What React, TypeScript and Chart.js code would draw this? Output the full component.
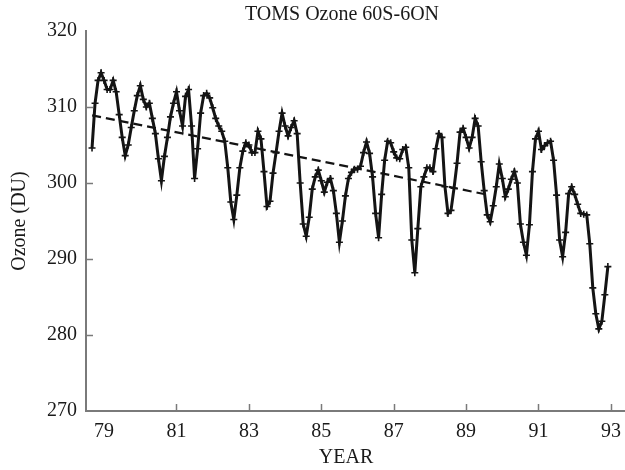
import React, { useEffect, useRef } from "react";
import { Chart, registerables } from "chart.js";

Chart.register(...registerables);

// ---- data (monthly TOMS ozone, 60S-60N, Dobson units) ----
const firstMonth = 78 + 8 / 12; // first monthly sample on the year axis
const oz1978 = [304.6, 310.5, 313.5, 314.5];
const oz1979 = [313.5, 312.3, 312.3, 313.5, 312.0, 309.0, 306.0, 303.6, 305.0, 307.3, 309.5, 311.5];
const oz1980 = [312.8, 311.0, 310.0, 310.5, 308.5, 306.5, 303.2, 300.3, 303.5, 306.0, 308.7, 310.5];
const oz1981 = [312.0, 309.5, 307.5, 311.4, 312.3, 307.5, 300.6, 304.5, 309.2, 311.5, 311.8, 311.2];
const oz1982 = [309.9, 308.5, 307.5, 306.8, 305.5, 302.0, 297.5, 295.2, 298.4, 302.0, 304.2, 305.3];
const oz1983 = [305.0, 304.0, 304.0, 306.8, 305.8, 301.5, 296.9, 297.6, 301.3, 304.0, 306.8, 309.2];
const oz1984 = [307.5, 306.2, 307.3, 308.2, 306.5, 300.0, 294.6, 293.0, 295.5, 299.2, 300.8, 301.7];
const oz1985 = [300.3, 298.8, 300.1, 300.6, 299.0, 296.0, 292.2, 295.0, 298.3, 300.6, 301.4, 301.8];
const oz1986 = [301.8, 302.2, 304.0, 305.4, 303.9, 300.8, 296.0, 292.8, 298.5, 303.0, 305.5, 305.3];
const oz1987 = [304.1, 303.3, 303.2, 304.4, 304.7, 302.0, 292.5, 288.2, 294.0, 299.5, 300.8, 302.0];
const oz1988 = [302.0, 301.5, 304.5, 306.5, 306.0, 299.5, 296.0, 296.4, 299.3, 302.6, 306.7, 307.2];
const oz1989 = [306.0, 304.6, 306.0, 308.5, 307.5, 302.8, 299.0, 295.8, 294.9, 297.0, 299.5, 302.5];
const oz1990 = [300.6, 298.2, 299.2, 300.5, 301.5, 300.0, 294.6, 292.2, 290.5, 294.5, 301.5, 305.8];
const oz1991 = [306.8, 304.4, 304.9, 305.3, 305.5, 303.0, 298.4, 292.5, 290.3, 293.5, 298.6, 299.5];
const oz1992 = [298.5, 297.2, 296.0, 295.9, 295.8, 292.0, 286.2, 282.8, 280.8, 281.8, 285.3, 289.0];

const trendYears = [78.67, 89.66];
const trendValues = [308.9, 298.4];

const xTickLabels = [79, 81, 83, 85, 87, 89, 91, 93];
const xTickMarks = [81, 83, 85, 87, 89, 91, 93];
const yTickLabels = [270, 280, 290, 300, 310, 320];
const yTickMarks = [280, 290, 300, 310];

const TITLE = "TOMS Ozone 60S-6ON";
const X_TITLE = "YEAR";
const Y_TITLE = "Ozone (DU)";

// ---- styles / layout ----
const W = 625;
const H = 470;
const FONT_FAMILY = '"Liberation Serif", "Times New Roman", serif';
const TEXT_COLOR = "#1a1a1a";
const AXIS_COLOR = "#7a7a7a";
const LINE_COLOR = "#141414";

const decorPlugin = {
  id: "decor",
  afterDraw(chart: any) {
    const { ctx, chartArea, scales } = chart;
    ctx.save();
    ctx.strokeStyle = AXIS_COLOR;
    ctx.lineWidth = 1.5;
    xTickMarks.forEach((v) => {
      const px = Math.round(scales.x.getPixelForValue(v)) + 0.5;
      ctx.beginPath();
      ctx.moveTo(px, chartArea.bottom);
      ctx.lineTo(px, chartArea.bottom - 7);
      ctx.stroke();
    });
    yTickMarks.forEach((v) => {
      const py = Math.round(scales.y.getPixelForValue(v)) + 0.5;
      ctx.beginPath();
      ctx.moveTo(chartArea.left, py);
      ctx.lineTo(chartArea.left + 7, py);
      ctx.stroke();
    });
    ctx.fillStyle = TEXT_COLOR;
    ctx.font = `20px ${FONT_FAMILY}`;
    ctx.textAlign = "center";
    ctx.textBaseline = "middle";
    ctx.fillText(TITLE, 342, 15);
    ctx.fillText(X_TITLE, 346, 458);
    ctx.restore();
  },
};

export default function App() {
  const ref = useRef<HTMLCanvasElement | null>(null);

  useEffect(() => {
    const canvas = ref.current;
    if (!canvas) return;
    const values = [
      ...oz1978, ...oz1979, ...oz1980, ...oz1981, ...oz1982, ...oz1983, ...oz1984, ...oz1985,
      ...oz1986, ...oz1987, ...oz1988, ...oz1989, ...oz1990, ...oz1991, ...oz1992,
    ];
    const series = values.map((v, i) => ({ x: firstMonth + i / 12, y: v }));
    const trend = trendYears.map((x, i) => ({ x, y: trendValues[i] }));

    const chart = new Chart(canvas, {
      type: "line",
      data: {
        datasets: [
          {
            label: "Ozone",
            data: series,
            borderColor: LINE_COLOR,
            backgroundColor: LINE_COLOR,
            borderWidth: 3,
            pointStyle: "cross",
            pointRadius: 3.5,
            pointBorderWidth: 1.6,
            pointBorderColor: LINE_COLOR,
            tension: 0,
            fill: false,
          },
          {
            label: "Trend",
            data: trend,
            borderColor: LINE_COLOR,
            borderWidth: 2.2,
            borderDash: [9, 5],
            pointRadius: 0,
            tension: 0,
            fill: false,
          },
        ],
      },
      options: {
        responsive: false,
        animation: false,
        devicePixelRatio: 1,
        layout: { autoPadding: false, padding: { top: 31, left: 0, right: 0, bottom: 0 } },
        plugins: {
          legend: { display: false },
          title: { display: false },
          tooltip: { enabled: false },
        },
        scales: {
          x: {
            type: "linear",
            min: 78.5,
            max: 93.39,
            grid: { display: false, drawTicks: false },
            border: { display: true, color: AXIS_COLOR, width: 2 },
            afterBuildTicks: (scale: any) => {
              scale.ticks = xTickLabels.map((v) => ({ value: v }));
            },
            afterFit: (scale: any) => {
              scale.height = H - 411;
              scale.paddingLeft = 0;
              scale.paddingRight = 0;
            },
            ticks: {
              padding: 9,
              color: TEXT_COLOR,
              font: { family: FONT_FAMILY, size: 20 },
              maxRotation: 0,
              autoSkip: false,
              callback: (v: any) => String(v),
            },
          },
          y: {
            type: "linear",
            min: 270,
            max: 320,
            grid: { display: false, drawTicks: false },
            border: { display: true, color: AXIS_COLOR, width: 2 },
            afterBuildTicks: (scale: any) => {
              scale.ticks = yTickLabels.map((v) => ({ value: v }));
            },
            afterFit: (scale: any) => {
              scale.width = 86;
              scale.paddingTop = 0;
              scale.paddingBottom = 0;
            },
            ticks: {
              padding: 9,
              color: TEXT_COLOR,
              font: { family: FONT_FAMILY, size: 20 },
              callback: (v: any) => String(v),
            },
            title: {
              display: true,
              text: Y_TITLE,
              color: TEXT_COLOR,
              font: { family: FONT_FAMILY, size: 20 },
              padding: { top: 8, bottom: 0 },
            },
          },
        },
      },
      plugins: [decorPlugin],
    });

    return () => {
      chart.destroy();
    };
  }, []);

  return (
    <div style={{ position: "fixed", left: 0, top: 0, width: W, height: H, background: "#fff" }}>
      <canvas ref={ref} width={W} height={H} style={{ display: "block", width: W, height: H }} />
    </div>
  );
}
